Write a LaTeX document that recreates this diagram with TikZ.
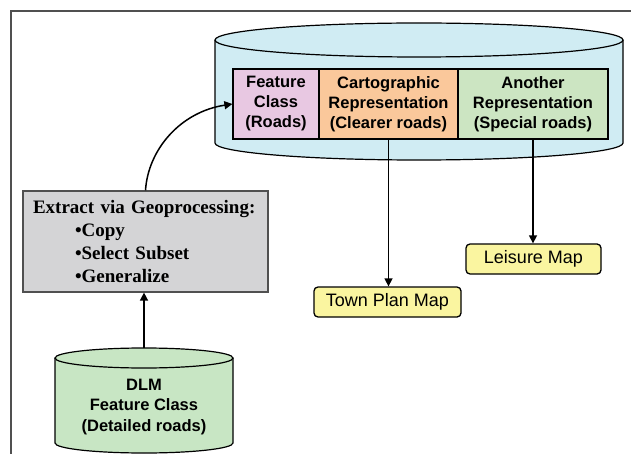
\documentclass[tikz,border=0pt]{standalone}
\usepackage{fontspec}
\setmainfont{Liberation Serif}
\newfontfamily\arialfont{Liberation Sans}
\usetikzlibrary{arrows.meta}

\definecolor{cylblue}{HTML}{D0ECF3}
\definecolor{cellpink}{HTML}{E8C8E2}
\definecolor{cellorange}{HTML}{FAC89B}
\definecolor{cellgreen}{HTML}{CCE5C2}
\definecolor{dlmgreen}{HTML}{C8E6C4}
\definecolor{boxgray}{HTML}{D4D4D6}
\definecolor{mapyellow}{HTML}{FAF5A0}
\definecolor{framegray}{HTML}{505050}

\begin{document}
\begin{tikzpicture}[x=1pt,y=-1pt,
  arr/.style={line width=1.5pt,-{Triangle[length=8pt,width=8pt]}},
  cyl line/.style={draw=black,line width=1.2pt},
  cell/.style={draw=black,line width=1.2pt,minimum height=70pt,inner sep=0pt,
    align=center,font=\arialfont\bfseries\fontsize{16.5}{20}\selectfont},
  mapbox/.style={draw=black,line width=1.3pt,rounded corners=4pt,fill=mapyellow,
    minimum height=30pt,inner sep=0pt,font=\arialfont\fontsize{18}{20}\selectfont},
]
\useasboundingbox (0,0) rectangle (631,454);
\fill[white] (0,0) rectangle (631,454);

% outer frame (left and top edges)
\draw[framegray,line width=2pt] (11,454) -- (11,11);
\draw[framegray,line width=1.5pt] (10,11) -- (631,11);

% geodatabase cylinder
\fill[cylblue] (215,40) -- (215,143)
  arc[start angle=180,end angle=360,x radius=204pt,y radius=17pt]
  -- (623,40) arc[start angle=0,end angle=180,x radius=204pt,y radius=17pt] -- cycle;
\draw[cyl line] (215,40) -- (215,143)
  arc[start angle=180,end angle=360,x radius=204pt,y radius=17pt] -- (623,40);
\draw[cyl line] (419,40) ellipse [x radius=204pt,y radius=17pt];

% feature class and its representations
\node[cell,fill=cellpink,minimum width=86pt] (fc) at (276,104) {Feature\\Class\\(Roads)};
\node[cell,fill=cellorange,minimum width=139pt] (carto) at (388.5,104)
  {Cartographic\\Representation\\(Clearer roads)};
\node[cell,fill=cellgreen,minimum width=150pt] (another) at (533,104)
  {Another\\Representation\\(Special roads)};

% output maps
\node[mapbox,minimum width=147pt] (town) at (387.5,302) {Town Plan Map};
\node[mapbox,minimum width=135pt] (leisure) at (533.5,259) {Leisure Map};

% geoprocessing step
\node[draw=framegray,line width=1.2pt,fill=boxgray,minimum width=245pt,minimum height=101pt,
  text width=225pt,inner xsep=10pt,align=left,
  font=\bfseries\fontsize{19}{22.7}\selectfont] (ext) at (145.5,241.5)
  {Extract via Geoprocessing:\\
   \hspace*{42pt}•Copy\\
   \hspace*{42pt}•Select Subset\\
   \hspace*{42pt}•Generalize};

% DLM source cylinder
\fill[dlmgreen] (55,358) -- (55,443)
  arc[start angle=180,end angle=360,x radius=89pt,y radius=10pt]
  -- (233,358) arc[start angle=0,end angle=180,x radius=89pt,y radius=10pt] -- cycle;
\draw[cyl line] (55,358) -- (55,443)
  arc[start angle=180,end angle=360,x radius=89pt,y radius=10pt] -- (233,358);
\draw[cyl line] (144,358) ellipse [x radius=89pt,y radius=10pt];
\node[align=center,inner sep=0pt,font=\arialfont\bfseries\fontsize{16.5}{20.5}\selectfont]
  (dlm) at (144,407) {DLM\\Feature Class\\(Detailed roads)};
\coordinate (dlmtop) at (144,348);

% connectors
\draw[arr] (dlmtop) -- (dlmtop |- ext.south);
\draw[arr] (ext.north) .. controls (148,150) and (180,112) .. (fc.west);
\draw[arr] (carto.south) -- (carto.south |- town.north);
\draw[arr] (another.south) -- (another.south |- leisure.north);
\end{tikzpicture}
\end{document}
